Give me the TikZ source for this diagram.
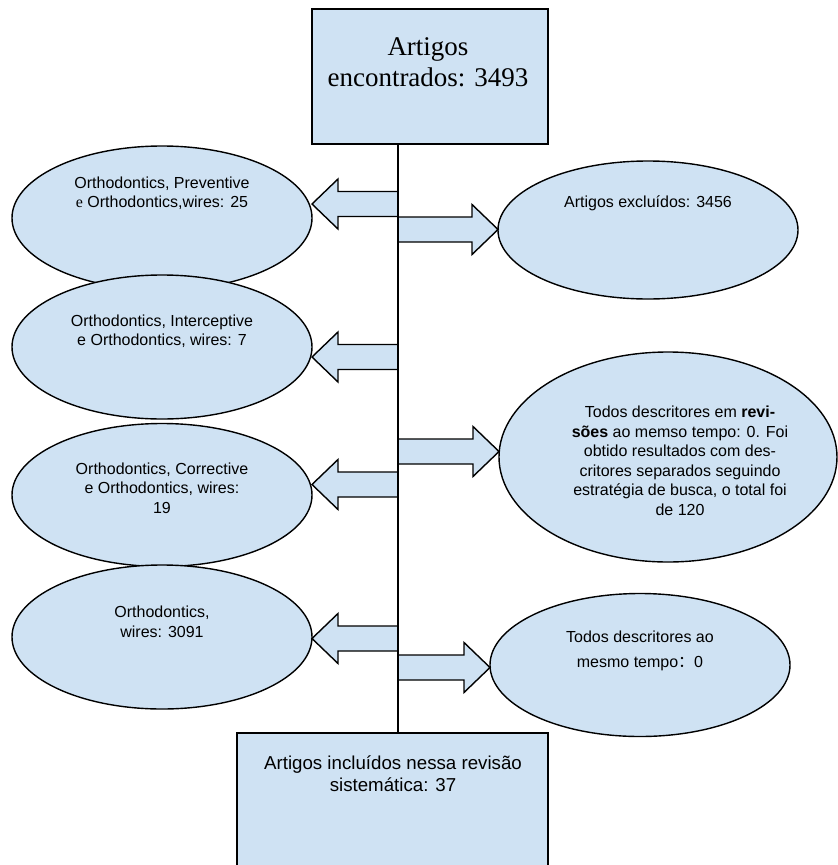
\documentclass[tikz,border=0pt]{standalone}
\usepackage{fontspec}
\setmainfont{Liberation Sans}
\newfontfamily\timesfont{Liberation Serif}
\newfontfamily\cjk{Noto Sans CJK SC}
\usetikzlibrary{shapes.geometric,calc}
\definecolor{paleblue}{HTML}{CFE2F3}

\tikzset{
  bubble/.style={ellipse, draw, fill=paleblue, line width=1.4pt, inner sep=0pt, minimum width=300pt, minimum height=144pt},
  stage/.style={rectangle, draw, fill=paleblue, line width=2pt, inner sep=0pt},
  bubbletext/.style={align=center, inner sep=0pt, font=\fontsize{16}{19.5}\selectfont},
  blockarr/.style={draw, fill=paleblue, line width=1.4pt, line join=miter},
  spine/.style={draw, line width=2pt}
}

\newcommand{\blockarrow}[2]{%
  \path[blockarr] let \p1=(#1), \p2=(#2), \p3=($(#2)!26pt!(#1)$) in
    (\x1,\y1+12.5pt) -- (\x3,\y1+12.5pt) -- (\x3,\y1+25pt) -- (\p2)
    -- (\x3,\y1-25pt) -- (\x3,\y1-12.5pt) -- (\x1,\y1-12.5pt) -- cycle;}

\begin{document}
\begin{tikzpicture}[x=1pt, y=-1pt]
\useasboundingbox (0,0) rectangle (838,865);

\node[bubble] (preventive) at (162,218) {};
\node[bubble] (interceptive) at (162,347) {};
\node[bubble, minimum height=143pt] (corrective) at (162,495) {};
\node[bubble] (wires) at (162,637) {};
\node[bubble, minimum height=138pt] (excluded) at (648,230) {};
\node[bubble, minimum width=338pt, minimum height=210pt] (reviews) at (668,457) {};
\node[bubble, minimum height=143pt] (together) at (640,665) {};

\node[bubbletext] (preventivetxt) at (162,193) {Orthodontics, Preventive\\{\timesfont e} Orthodontics,wires: 25};
\node[bubbletext] (interceptivetxt) at (162,331) {Orthodontics, Interceptive\\e Orthodontics, wires: 7};
\node[bubbletext] (correctivetxt) at (162,488) {Orthodontics, Corrective\\e Orthodontics, wires:\\19};
\node[bubbletext] (wirestxt) at (162,622) {Orthodontics,\\wires: 3091};
\node[bubbletext] (excludedtxt) at (648,203) {Artigos excluídos: 3456};
\node[bubbletext] (reviewstxt) at (680,461) {Todos descritores em \textbf{revi-}\\\textbf{sões} ao memso tempo: 0. Foi\\obtido resultados com des-\\critores separados seguindo\\estratégia de busca, o total foi\\de 120};
\node[bubbletext, font=\fontsize{16}{25}\selectfont] (togethertxt) at (640,650.5) {Todos descritores ao\\mesmo tempo{\cjk ：}0};

\coordinate (s1) at (398,204);   \coordinate (t1) at (312,204);
\coordinate (s2) at (398,229.5); \coordinate (t2) at (498,229.5);
\coordinate (s3) at (398,357);   \coordinate (t3) at (312,357);
\coordinate (s4) at (398,451.5); \coordinate (t4) at (499,451.5);
\coordinate (s5) at (398,484.5); \coordinate (t5) at (312,484.5);
\coordinate (s6) at (398,638.5); \coordinate (t6) at (312,638.5);
\coordinate (s7) at (398,667.5); \coordinate (t7) at (490,667.5);

\blockarrow{s1}{t1}
\blockarrow{s2}{t2}
\blockarrow{s3}{t3}
\blockarrow{s4}{t4}
\blockarrow{s5}{t5}
\blockarrow{s6}{t6}
\blockarrow{s7}{t7}

\node[stage, minimum width=236pt, minimum height=135pt] (found) at (430,76.5) {};
\node[stage, minimum width=311pt, minimum height=170pt] (included) at (392.5,818) {};
\draw[spine] (found.south -| s1) -- (included.north -| s1);

\node[align=center, inner sep=0pt, font=\timesfont\fontsize{27}{31}\selectfont] (foundtxt) at (428,62.5) {Artigos\\encontrados: 3493};
\node[align=center, inner sep=0pt, font=\fontsize{18.7}{22}\selectfont] (includedtxt) at (393,774) {Artigos incluídos nessa revisão\\sistemática: 37};
\end{tikzpicture}
\end{document}
